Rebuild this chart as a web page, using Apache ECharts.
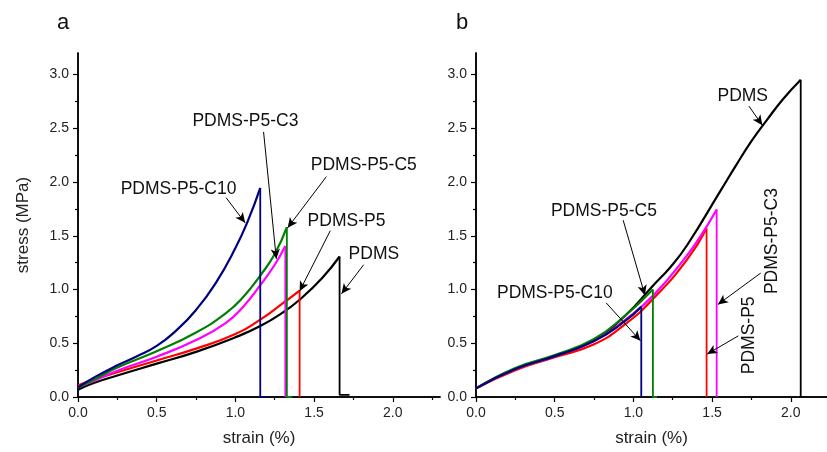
<!DOCTYPE html>
<html>
<head>
<meta charset="utf-8">
<script src="https://cdn.jsdelivr.net/npm/echarts@6/dist/echarts.min.js"></script>
<style>
  html, body { margin: 0; padding: 0; background: #fff; }
  #chart { width: 827px; height: 452px; }
</style>
</head>
<body>
<div id="chart"></div>
<script>
// panel a: [strain %, stress MPa]
const aPDMS = [[0, 0.068], [0.1, 0.13], [0.25, 0.2], [0.5, 0.31], [0.75, 0.42], [1.0, 0.555], [1.158, 0.66], [1.3, 0.785], [1.408, 0.905], [1.55, 1.105], [1.662, 1.307]];
const aP5 = [[0, 0.11], [0.1, 0.16], [0.25, 0.23], [0.5, 0.34], [0.75, 0.45], [1.0, 0.585], [1.158, 0.72], [1.3, 0.87], [1.408, 0.99]];
const aC3 = [[0, 0.09], [0.1, 0.15], [0.25, 0.245], [0.5, 0.375], [0.75, 0.53], [0.94, 0.69], [1.05, 0.84], [1.158, 1.04], [1.25, 1.23], [1.317, 1.405]];
const aC5 = [[0, 0.085], [0.1, 0.16], [0.25, 0.275], [0.5, 0.425], [0.75, 0.6], [0.94, 0.78], [1.05, 0.93], [1.158, 1.13], [1.25, 1.33], [1.327, 1.58]];
const aC10 = [[0, 0.09], [0.1, 0.18], [0.25, 0.295], [0.375, 0.38], [0.5, 0.475], [0.625, 0.62], [0.75, 0.81], [0.875, 1.06], [1.0, 1.385], [1.08, 1.64], [1.158, 1.945]];

// fracture drops (panel a)
const aPDMSBreak = [[1.662, 1.307], [1.662, 0.02], [1.725, 0.02]];
const aP5Break = [[1.408, 0.99], [1.408, 0]];
const aC3Break = [[1.317, 1.405], [1.317, 0]];
const aC5Break = [[1.327, 1.58], [1.327, 0], [1.36, 0]];
const aC10Break = [[1.158, 1.945], [1.158, 0], [1.19, 0]];

// panel b
const bPDMS = [[0, 0.08], [0.25, 0.26], [0.5, 0.38], [0.75, 0.53], [0.95, 0.76], [1.13, 1.045], [1.236, 1.21], [1.342, 1.414], [1.554, 1.92], [1.65, 2.15], [1.75, 2.38], [1.85, 2.58], [1.95, 2.77], [2.063, 2.952]];
const bP5 = [[0, 0.08], [0.25, 0.25], [0.5, 0.37], [0.75, 0.49], [0.95, 0.68], [1.13, 0.92], [1.342, 1.28], [1.465, 1.568]];
const bC3 = [[0, 0.08], [0.25, 0.26], [0.5, 0.38], [0.75, 0.52], [0.95, 0.72], [1.13, 0.95], [1.342, 1.32], [1.45, 1.55], [1.529, 1.744]];
const bC5 = [[0, 0.08], [0.25, 0.27], [0.5, 0.39], [0.75, 0.54], [0.95, 0.76], [1.124, 1.0]];
const bC10 = [[0, 0.08], [0.25, 0.26], [0.5, 0.38], [0.75, 0.52], [0.95, 0.71], [1.05, 0.84]];

const bPDMSBreak = [[2.063, 2.952], [2.063, 0]];
const bP5Break = [[1.465, 1.568], [1.465, 0]];
const bC3Break = [[1.529, 1.744], [1.529, 0]];
const bC5Break = [[1.124, 1.0], [1.124, 0], [1.15, 0]];
const bC10Break = [[1.05, 0.84], [1.05, 0]];

// tick values
const xMajor = [0, 0.5, 1.0, 1.5, 2.0];
const xMinor = [0.25, 0.75, 1.25, 1.75, 2.25];
const yMajor = [0, 0.5, 1.0, 1.5, 2.0, 2.5, 3.0];
const yMinor = [0.25, 0.75, 1.25, 1.75, 2.25, 2.75];

// annotations: [text, labelX, labelY, rotate, arrowFromX, arrowFromY, arrowToX, arrowToY]
const annotationsA = [
  ['PDMS-P5-C10', 0.642, 1.93, 0, 0.941, 1.854, 1.062, 1.62],
  ['PDMS-P5-C3', 1.067, 2.565, 0, 1.179, 2.466, 1.26, 1.285],
  ['PDMS-P5-C5', 1.819, 2.152, 0, 1.578, 2.05, 1.332, 1.574],
  ['PDMS-P5', 1.709, 1.63, 0, 1.603, 1.547, 1.408, 0.984],
  ['PDMS', 1.883, 1.322, 0, 1.815, 1.23, 1.674, 0.96]
];
const annotationsB = [
  ['PDMS', 1.698, 2.798, 0, 1.734, 2.706, 1.819, 2.528],
  ['PDMS-P5-C5', 0.816, 1.728, 0, 0.935, 1.645, 1.073, 0.947],
  ['PDMS-P5-C10', 0.504, 0.959, 0, 0.827, 0.876, 1.045, 0.523],
  ['PDMS-P5-C3', 1.885, 1.446, 90, 1.809, 1.153, 1.537, 0.861],
  ['PDMS-P5', 1.739, 0.569, 90, 1.667, 0.569, 1.469, 0.4]
];

const FONT = "'Liberation Sans', Arial, sans-serif";
const COLORS = { PDMS: '#000000', P5: '#ff0000', C3: '#ff00ff', C5: '#008000', C10: '#000080' };

function xAxes(gridIndex, max) {
  const base = {
    type: 'value', gridIndex, min: 0, max, position: 'bottom',
    splitLine: { show: false },
    axisLine: { show: true, onZero: false, lineStyle: { color: '#000', width: 1.5 } }
  };
  return [
    Object.assign({}, base, {
      name: 'strain (%)', nameLocation: 'middle', nameGap: 33,
      nameTextStyle: { fontFamily: FONT, fontSize: 17, color: '#222' },
      axisTick: { show: true, length: 5, customValues: xMajor, lineStyle: { color: '#000', width: 1.2 } },
      axisLabel: { customValues: xMajor, fontFamily: FONT, fontSize: 14, color: '#222', margin: 9,
        formatter: v => v.toFixed(1) }
    }),
    Object.assign({}, base, {
      axisTick: { show: true, length: 3, customValues: xMinor.filter(v => v < max), lineStyle: { color: '#000', width: 1.2 } },
      axisLabel: { show: false }
    })
  ];
}

function yAxes(gridIndex, withName) {
  const base = {
    type: 'value', gridIndex, min: 0, max: 3.2, position: 'left',
    splitLine: { show: false },
    axisLine: { show: true, onZero: false, lineStyle: { color: '#000', width: 1.5 } }
  };
  return [
    Object.assign({}, base, {
      name: withName ? 'stress (MPa)' : '', nameLocation: 'middle', nameGap: 46,
      nameTextStyle: { fontFamily: FONT, fontSize: 17, color: '#222' },
      axisTick: { show: true, length: 5, customValues: yMajor, lineStyle: { color: '#000', width: 1.2 } },
      axisLabel: { customValues: yMajor, fontFamily: FONT, fontSize: 14, color: '#222', margin: 9,
        formatter: v => v.toFixed(1) }
    }),
    Object.assign({}, base, {
      axisTick: { show: true, length: 3, customValues: yMinor, lineStyle: { color: '#000', width: 1.2 } },
      axisLabel: { show: false }
    })
  ];
}

function curve(data, color, xi, yi) {
  return {
    type: 'line', data, xAxisIndex: xi, yAxisIndex: yi,
    smooth: 0.5, symbol: 'none', silent: true,
    lineStyle: { color, width: 2.2 }
  };
}

function drop(data, color, xi, yi) {
  return {
    type: 'line', data, xAxisIndex: xi, yAxisIndex: yi,
    symbol: 'none', silent: true,
    lineStyle: { color, width: 1.8 }
  };
}

function annotations(list, xi, yi) {
  return {
    type: 'scatter', xAxisIndex: xi, yAxisIndex: yi, silent: true,
    symbolSize: 1, itemStyle: { color: 'rgba(0,0,0,0)' },
    data: list.map(a => ({
      value: [a[1], a[2]],
      label: {
        show: true, formatter: a[0], position: [0, 0], rotate: a[3],
        align: 'center', verticalAlign: 'middle', textBorderWidth: 0, opacity: 1,
        fontFamily: FONT, fontSize: 17.5, color: '#111'
      }
    })),
    markLine: {
      silent: true, animation: false,
      symbol: ['none', 'arrow'], symbolSize: [7, 10],
      label: { show: false },
      lineStyle: { color: '#000', width: 1, type: 'solid' },
      data: list.map(a => [{ coord: [a[4], a[5]] }, { coord: [a[6], a[7]] }])
    }
  };
}

const chart = echarts.init(document.getElementById('chart'));
chart.setOption({
  animation: false,
  backgroundColor: '#fff',
  grid: [
    { left: 78, top: 53, width: 362, height: 347 },
    { left: 476, top: 53, width: 351, height: 347 }
  ],
  xAxis: [...xAxes(0, 2.3), ...xAxes(1, 2.23)],
  yAxis: [...yAxes(0, true), ...yAxes(1, false)],
  graphic: [
    { type: 'text', x: 63, y: 23, style: { text: 'a', font: '22px ' + FONT, fill: '#111', textAlign: 'center', textVerticalAlign: 'middle' } },
    { type: 'text', x: 462, y: 23, style: { text: 'b', font: '22px ' + FONT, fill: '#111', textAlign: 'center', textVerticalAlign: 'middle' } }
  ],
  series: [
    curve(aPDMS, COLORS.PDMS, 0, 0), drop(aPDMSBreak, COLORS.PDMS, 0, 0),
    curve(aP5, COLORS.P5, 0, 0), drop(aP5Break, COLORS.P5, 0, 0),
    curve(aC3, COLORS.C3, 0, 0), drop(aC3Break, COLORS.C3, 0, 0),
    curve(aC5, COLORS.C5, 0, 0), drop(aC5Break, COLORS.C5, 0, 0),
    curve(aC10, COLORS.C10, 0, 0), drop(aC10Break, COLORS.C10, 0, 0),
    annotations(annotationsA, 0, 0),

    curve(bPDMS, COLORS.PDMS, 2, 2), drop(bPDMSBreak, COLORS.PDMS, 2, 2),
    curve(bP5, COLORS.P5, 2, 2), drop(bP5Break, COLORS.P5, 2, 2),
    curve(bC3, COLORS.C3, 2, 2), drop(bC3Break, COLORS.C3, 2, 2),
    curve(bC5, COLORS.C5, 2, 2), drop(bC5Break, COLORS.C5, 2, 2),
    curve(bC10, COLORS.C10, 2, 2), drop(bC10Break, COLORS.C10, 2, 2),
    annotations(annotationsB, 2, 2)
  ]
});
</script>
</body>
</html>
